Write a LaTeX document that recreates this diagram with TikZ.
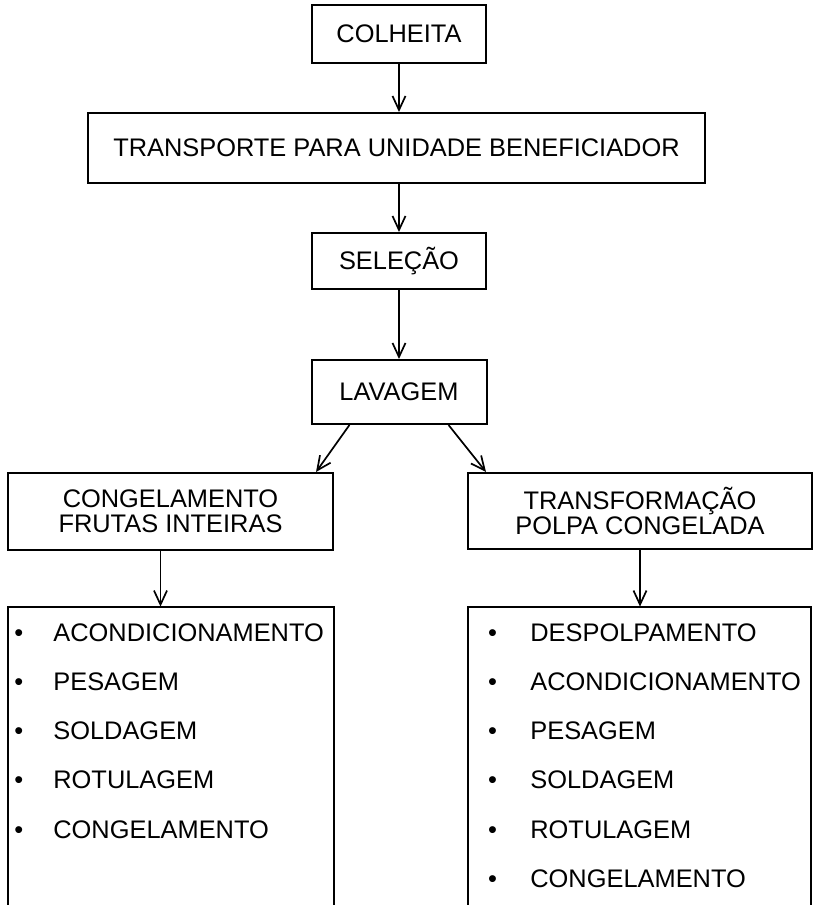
\documentclass[tikz,border=0pt]{standalone}
\usepackage{fontspec}
\setmainfont{Liberation Sans}
\usetikzlibrary{calc,arrows.meta}

\begin{document}
\begin{tikzpicture}[x=0.5pt,y=-0.5pt,
  caixa/.style={draw,line width=1pt,inner sep=0pt,align=center,
    font=\fontsize{12.7pt}{12.5pt}\selectfont},
  item/.style={inner sep=0pt,anchor=base west,
    font=\fontsize{12.7pt}{12.5pt}\selectfont},
  seta/.style={->,line width=0.85pt},
  >={Straight Barb[length=7pt,width=6.5pt]}]
  \useasboundingbox (0,0) rectangle (815,905);
  \node[caixa,minimum width=87pt,minimum height=29pt] (colheita) at (399,34) {COLHEITA};
  \node[caixa,minimum width=308.5pt,minimum height=35pt] (transporte) at (396.5,148) {TRANSPORTE PARA UNIDADE BENEFICIADOR};
  \node[caixa,minimum width=87pt,minimum height=28pt] (selecao) at (399,261) {SELEÇÃO};
  \node[caixa,minimum width=87.5pt,minimum height=32pt] (lavagem) at (399,392) {LAVAGEM};
  \node[caixa,minimum width=162.5pt,minimum height=38.5pt] (congel) at (170.5,511.5) {CONGELAMENTO\\FRUTAS INTEIRAS};
  \node[caixa,minimum width=172pt,minimum height=38pt] (transf) at (640,511) {TRANSFORMAÇÃO\\POLPA CONGELADA};
  \node[inner sep=0pt,minimum width=163pt,minimum height=149pt] (listaesq) at (171,756) {};
  \node[inner sep=0pt,minimum width=171.5pt,minimum height=149pt] (listadir) at (639.5,756) {};
  \draw[line width=1pt] (listaesq.south west) -- (listaesq.north west) -- (listaesq.north east) -- (listaesq.south east);
  \draw[line width=1pt] (listadir.south west) -- (listadir.north west) -- (listadir.north east) -- (listadir.south east);
  % itens da esquerda
  \node[item] (e1) at (14,641) {\makebox[19.5pt][l]{\textbullet}ACONDICIONAMENTO};
  \node[item] (e2) at (14,690.3) {\makebox[19.5pt][l]{\textbullet}PESAGEM};
  \node[item] (e3) at (14,739.6) {\makebox[19.5pt][l]{\textbullet}SOLDAGEM};
  \node[item] (e4) at (14,788.9) {\makebox[19.5pt][l]{\textbullet}ROTULAGEM};
  \node[item] (e5) at (14,838.2) {\makebox[19.5pt][l]{\textbullet}CONGELAMENTO};
  % itens da direita
  \node[item] (d1) at (487.6,641) {\makebox[21.2pt][l]{\textbullet}DESPOLPAMENTO};
  \node[item] (d2) at (487.6,690.3) {\makebox[21.2pt][l]{\textbullet}ACONDICIONAMENTO};
  \node[item] (d3) at (487.6,739.6) {\makebox[21.2pt][l]{\textbullet}PESAGEM};
  \node[item] (d4) at (487.6,788.9) {\makebox[21.2pt][l]{\textbullet}SOLDAGEM};
  \node[item] (d5) at (487.6,838.2) {\makebox[21.2pt][l]{\textbullet}ROTULAGEM};
  \node[item] (d6) at (487.6,887.5) {\makebox[21.2pt][l]{\textbullet}CONGELAMENTO};
  % setas
  \draw[seta] (colheita.south) -- (colheita.south |- transporte.north);
  \draw[seta] (selecao.north |- transporte.south) -- (selecao.north);
  \draw[seta] (selecao.south) -- (lavagem.north);
  \draw[seta] ($(lavagem.south west)!.22!(lavagem.south east)$) -- ($(congel.north west)!.945!(congel.north east)$);
  \draw[seta] ($(lavagem.south west)!.78!(lavagem.south east)$) -- ($(transf.north west)!.055!(transf.north east)$);
  \draw[seta] ([xshift=-5pt]congel.south) -- ([xshift=-5pt]congel.south |- listaesq.north);
  \draw[seta] (transf.south) -- (transf.south |- listadir.north);
\end{tikzpicture}
\end{document}
